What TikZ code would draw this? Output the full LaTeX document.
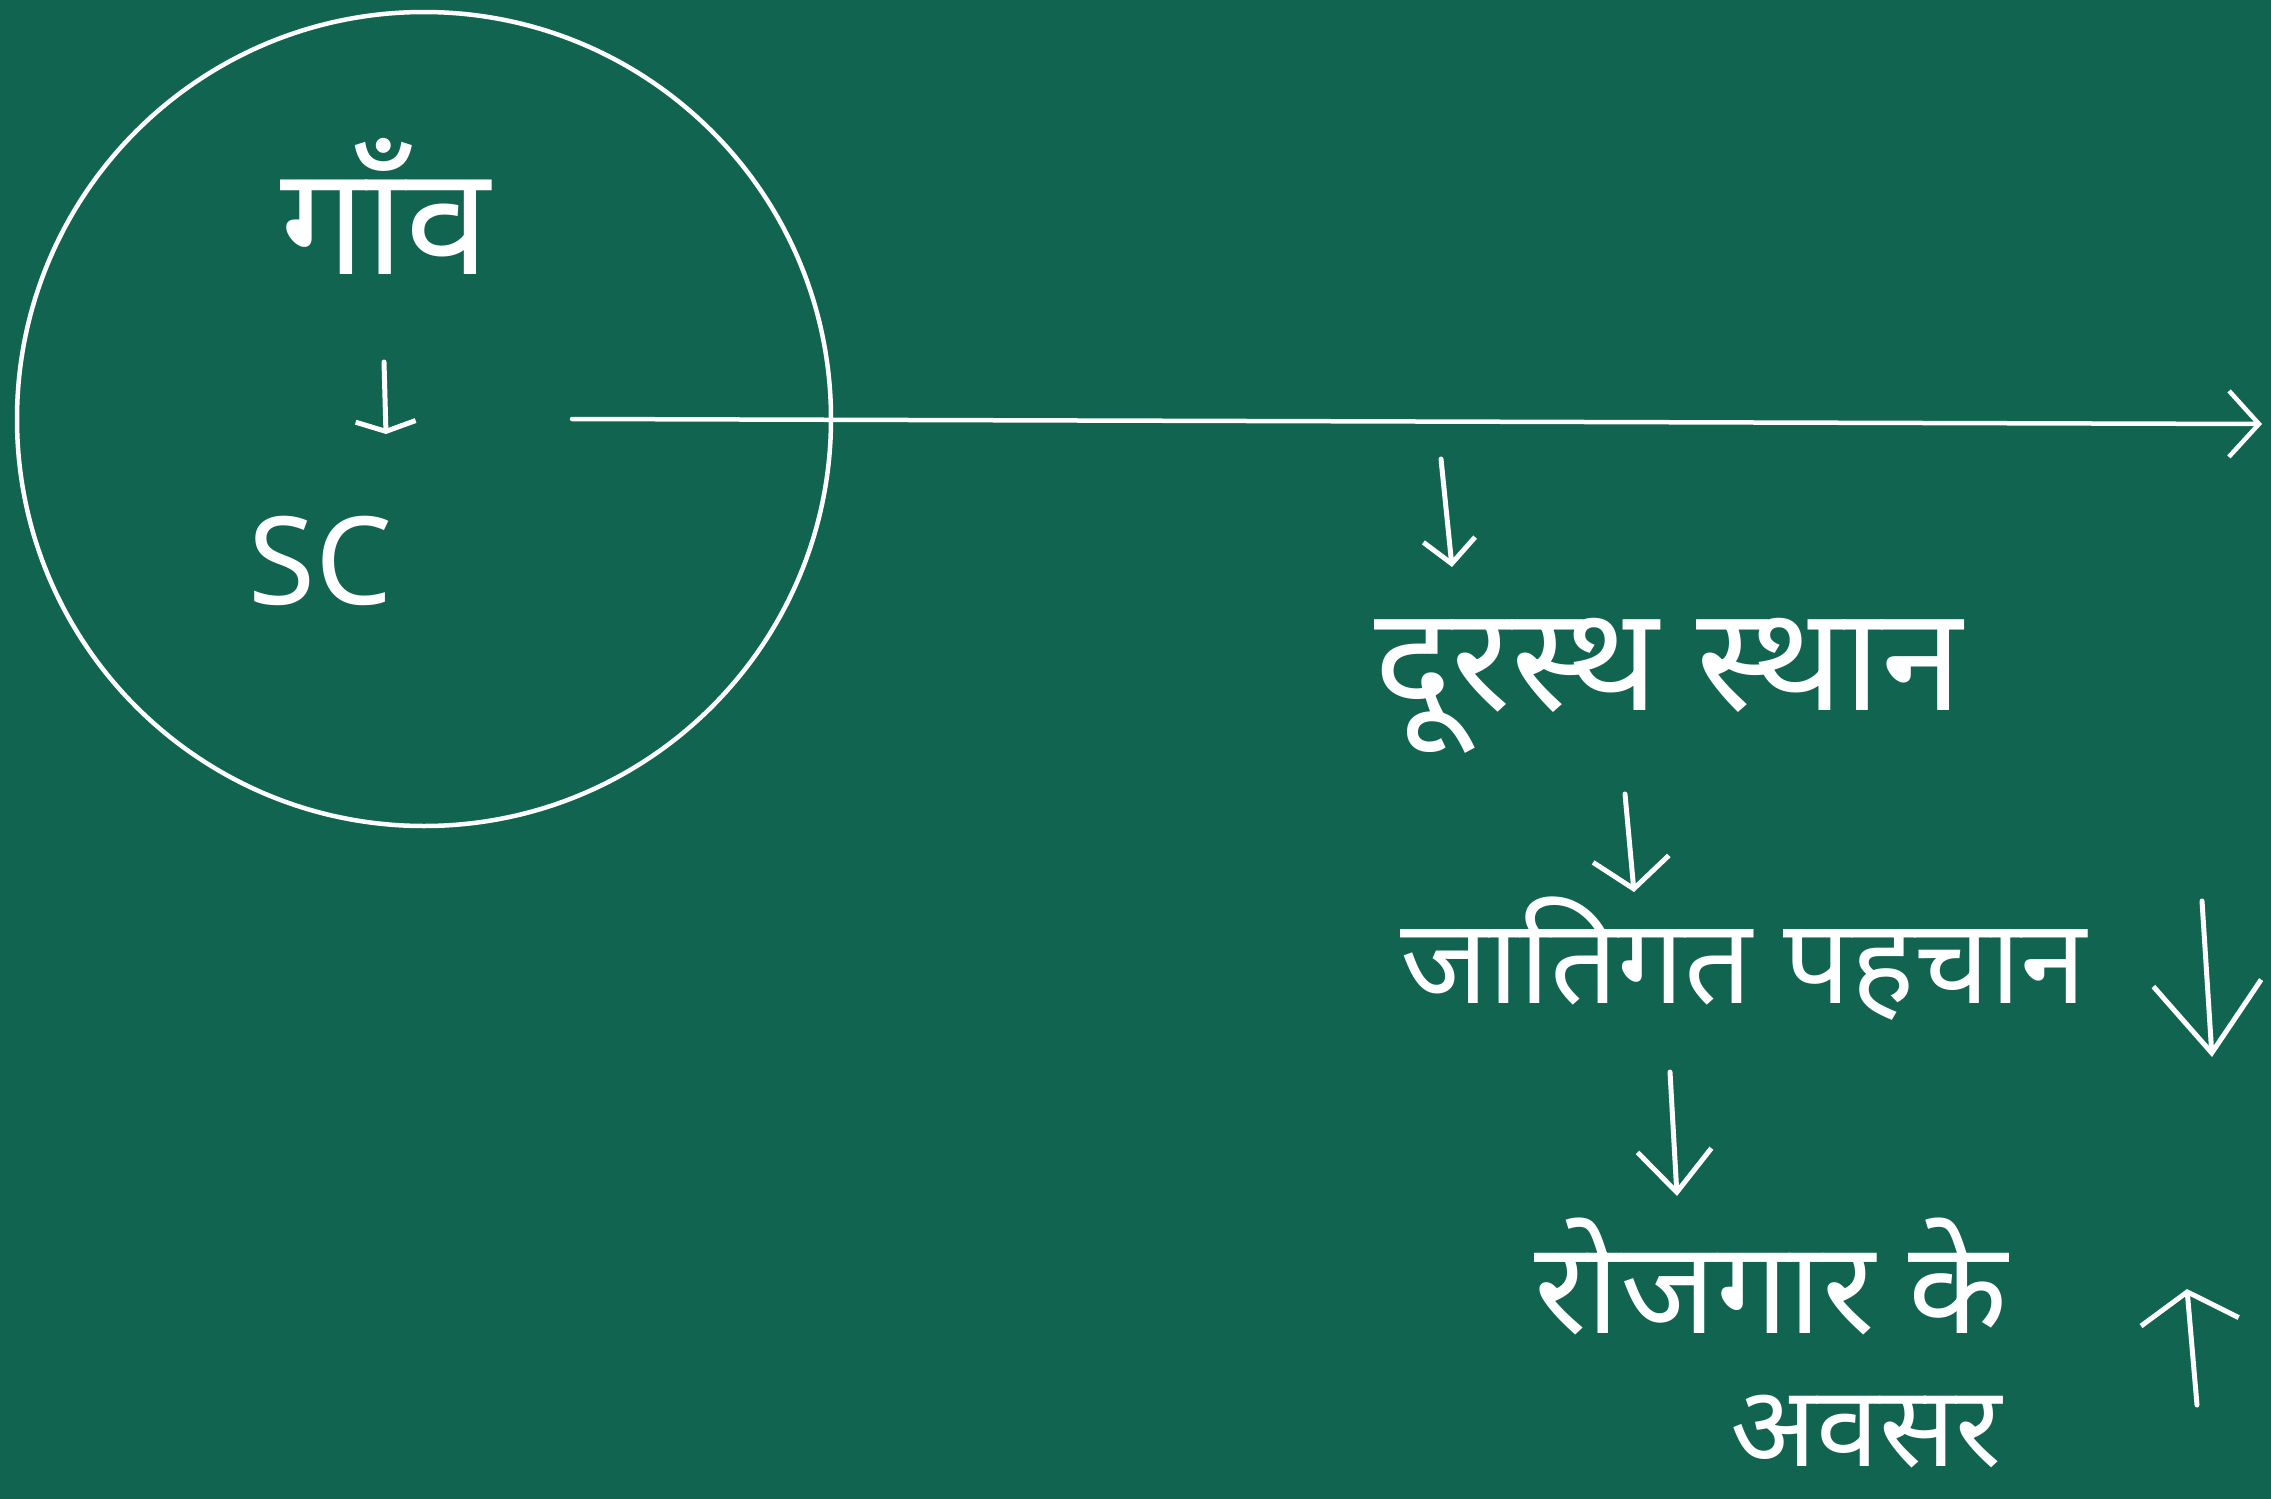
\documentclass[tikz,border=0pt]{standalone}
\usepackage{fontspec}
\setmainfont{Noto Sans}
\newfontfamily\deva[Script=Devanagari]{Noto Sans}
\usetikzlibrary{arrows.meta}
\definecolor{board}{RGB}{16,100,80}
\tikzset{
  chalk/.style={draw=white, line width=5pt, line cap=round},
  label/.style={text=white, inner sep=0pt, anchor=base west, font=\deva},
}
\begin{document}
\begin{tikzpicture}[x=1pt,y=-1pt]
\fill[board] (0,0) rectangle (2271,1499);
\useasboundingbox (0,0) rectangle (2271,1499);

% circle
\node[draw=white, line width=4.5pt, circle, minimum size=814pt, inner sep=0pt] (circ) at (424,419) {};

% texts
\node[label, font=\deva\fontsize{152}{160}\selectfont] (gaon) at (280,274) {गाँव};
\node[label, font=\deva\fontsize{122}{130}\selectfont] (sc) at (248,604) {SC};
\node[label, font=\deva\fontsize{146}{160}\selectfont] (dur) at (1374,710) {दूरस्थ स्थान};
\node[label, font=\deva\fontsize{119}{140}\selectfont] (jati) at (1400,1003) {जातिगत पहचान};
\node[label, font=\deva\fontsize{129}{140}\selectfont] (rozgar) at (1534,1333) {रोजगार के};
\node[label, font=\deva\fontsize{113}{130}\selectfont] (avsar) at (1730,1466) {अवसर};

% coordinates for connectors
\coordinate (a0s) at (384,362);
\coordinate (a0e) at (386,434);
\coordinate (hs) at (572,419);
\coordinate (he) at (2262,424);
\coordinate (a1s) at (1441,459);
\coordinate (a1e) at (1452,567);
\coordinate (a2s) at (1625,794);
\coordinate (a2e) at (1634,892);
\coordinate (a3s) at (1670,1072);
\coordinate (a3e) at (1677,1196);
\coordinate (rds) at (2202,901);
\coordinate (rde) at (2212,1057);
\coordinate (rus) at (2197,1405);
\coordinate (rue) at (2187,1289);

% connectors
\draw[chalk, -{Straight Barb[length=10pt, width=60pt, line width=5pt]}] (a0s) -- (a0e);
\draw[chalk, line width=4.5pt, -{Straight Barb[length=30pt, width=66pt, line width=4.5pt]}] (hs) -- (he);
\draw[chalk, -{Straight Barb[length=24pt, width=52pt, line width=5pt]}] (a1s) -- (a1e);
\draw[chalk, -{Straight Barb[length=30pt, width=76pt, line width=5pt]}] (a2s) -- (a2e);
\draw[chalk, -{Straight Barb[length=42pt, width=74pt, line width=5pt]}] (a3s) -- (a3e);
\draw[chalk, -{Straight Barb[length=70pt, width=108pt, line width=5pt]}] (rds) -- (rde);
\draw[chalk, -{Straight Barb[length=30pt, width=98pt, line width=5pt]}] (rus) -- (rue);
\end{tikzpicture}
\end{document}
